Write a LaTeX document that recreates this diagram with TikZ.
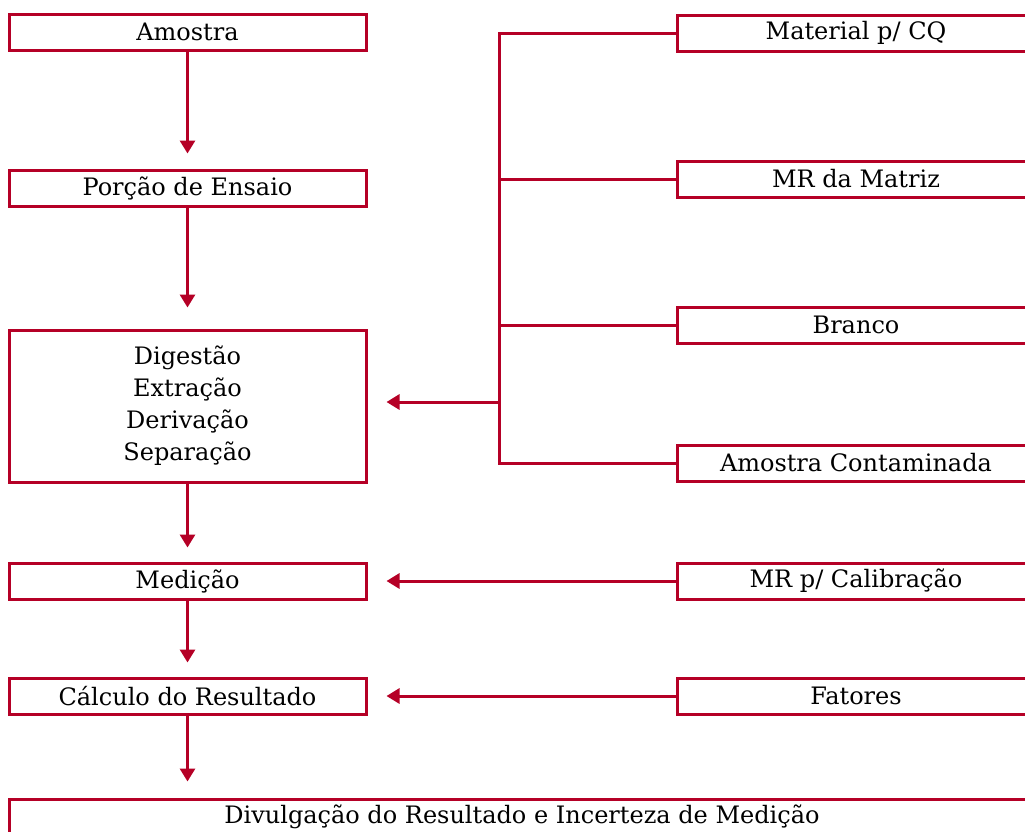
\documentclass[tikz,border=0pt]{standalone}
\usepackage{fontspec}
\setmainfont{DejaVu Serif}
\usetikzlibrary{arrows.meta}
\definecolor{crim}{RGB}{181,0,38}
\begin{document}
\begin{tikzpicture}[x=1pt,y=-1pt,
  every node/.style={font=\fontsize{24}{32}\selectfont, text=black},
  box/.style={draw=crim, line width=3pt, rectangle, inner sep=0pt, align=center},
  lbox/.style={box, minimum width=357pt, minimum height=36pt},
  rbox/.style={box, minimum width=358pt, minimum height=36pt},
  conn/.style={draw=crim, line width=3pt},
  arr/.style={conn, -{Triangle[width=15pt,length=13pt]}}]
\useasboundingbox (0,0) rectangle (1025,831);
\clip (0,0) rectangle (1025,831);
% left column
\node[lbox] (amostra) at (187.5,32) {Amostra};
\node[lbox] (porcao) at (187.5,188) {Porção de Ensaio};
\node[box, minimum width=357pt, minimum height=152pt] (digest) at (187.5,406) {Digestão\\Extração\\Derivação\\Separação};
\node[lbox] (medicao) at (187.5,581) {Medição};
\node[lbox] (calculo) at (187.5,696) {Cálculo do Resultado};
\node[box, minimum width=1026pt, minimum height=36pt] (divulg) at (522,817) {Divulgação do Resultado e Incerteza de Medição};
% right column
\node[rbox] (material) at (856,33) {Material p/ CQ};
\node[rbox] (mrmatriz) at (856,179) {MR da Matriz};
\node[rbox] (branco) at (856,325) {Branco};
\node[rbox] (contam) at (856,463) {Amostra Contaminada};
\node[rbox] (calib) at (856,581) {MR p/ Calibração};
\node[rbox] (fatores) at (856,696) {Fatores};
% junction
\coordinate (junc) at (499,402);
% vertical arrows
\draw[arr, shorten >=15pt] (amostra) -- (porcao);
\draw[arr, shorten >=21pt] (porcao) -- (digest);
\draw[arr, shorten >=14pt] (digest) -- (medicao);
\draw[arr, shorten >=14pt] (medicao) -- (calculo);
\draw[arr, shorten >=16pt] (calculo.south) -- (calculo.south |- divulg.north);
% branch
\draw[conn] (material.west) -- (material.west -| junc) -- (contam.west -| junc) -- (contam.west);
\draw[conn] (mrmatriz.west) -- (mrmatriz.west -| junc);
\draw[conn] (branco.west) -- (branco.west -| junc);
\draw[arr, shorten >=19pt] (junc) -- (junc -| digest.east);
% horizontal arrows
\draw[arr, shorten >=19pt] (calib) -- (medicao);
\draw[arr, shorten >=19pt] (fatores) -- (calculo);
\end{tikzpicture}
\end{document}
